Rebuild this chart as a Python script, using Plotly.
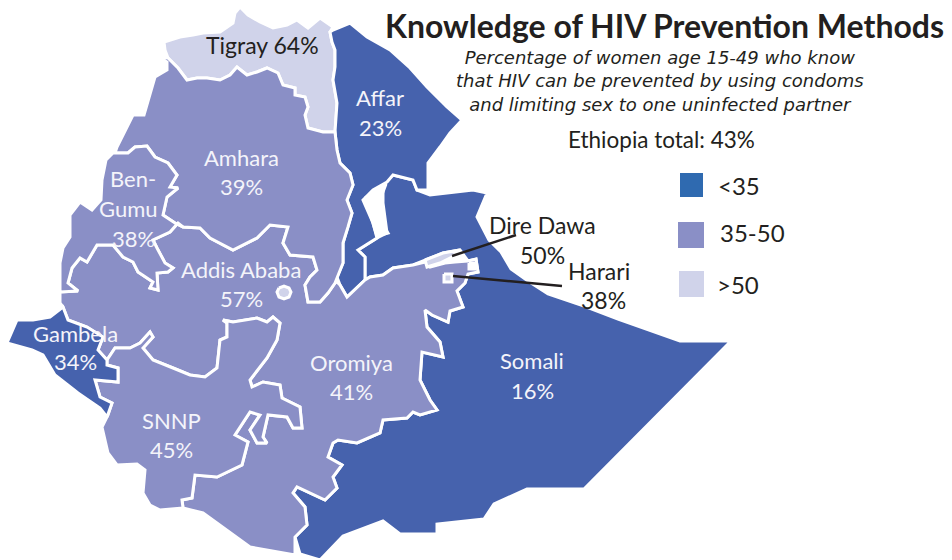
import plotly.graph_objects as go

DARK = "#4662ad"
MID = "#8a8fc6"
LIGHT = "#d0d3ea"
INK = "#231f20"

tigray = [(164,42),(180,37),(193,35),(203,33),(220,32),(233,23),(235,13),(240,7),(248,15),(260,22),(273,28),(287,25),(297,20),(308,28),(320,18),(333,27),(330,32),(332,42),(335,50),(335,67),(333,80),(337,103),(335,132),(323,132),(308,128),(305,115),(308,107),(305,97),(295,95),(295,88),(283,85),(278,73),(267,68),(257,72),(247,75),(237,67),(230,75),(220,80),(207,78),(197,78),(187,80),(178,68),(168,58),(165,50)]
amhara = [(159,57),(168,58),(178,68),(187,80),(197,78),(207,78),(220,80),(230,75),(237,67),(247,75),(257,72),(267,68),(278,73),(283,85),(295,88),(295,95),(305,97),(308,107),(305,115),(308,128),(323,132),(335,132),(337,150),(340,163),(350,173),(353,185),(347,200),(352,213),(348,227),(343,243),(343,263),(337,277),(335,283),(328,293),(320,302),(308,302),(305,285),(310,277),(317,270),(313,257),(290,255),(283,243),(288,227),(270,225),(257,238),(233,250),(210,238),(200,228),(183,227),(175,223),(163,215),(167,197),(178,188),(170,187),(177,175),(168,163),(155,157),(147,146),(135,147),(128,153),(115,153),(117,147),(122,137),(133,115),(144,115),(155,77),(167,70),(167,62)]
bengumuz = [(113,153),(115,153),(128,153),(135,147),(147,146),(155,157),(168,163),(177,175),(170,187),(178,188),(167,197),(163,215),(175,223),(183,227),(178,223),(170,232),(153,240),(157,248),(165,263),(173,268),(168,272),(157,273),(158,290),(150,288),(153,282),(138,272),(133,262),(123,257),(113,245),(97,245),(87,262),(80,258),(72,268),(68,283),(78,291),(60,292),(60,280),(60,263),(63,248),(70,237),(70,215),(80,202),(92,210),(101,200),(102,180),(106,160)]
oromiya = [(60,292),(78,291),(68,283),(72,268),(80,258),(87,262),(97,245),(113,245),(123,257),(133,262),(138,272),(153,282),(150,288),(158,290),(157,273),(168,272),(173,268),(165,263),(157,248),(153,240),(170,232),(178,223),(183,227),(200,228),(210,238),(233,250),(257,238),(270,225),(288,227),(283,243),(290,255),(313,257),(317,270),(310,277),(305,285),(308,302),(320,302),(328,293),(335,283),(337,282),(340,285),(347,297),(365,280),(370,277),(383,275),(393,268),(413,265),(425,262),(430,267),(445,263),(455,262),(468,261),(476,259),(478,272),(468,274),(465,283),(457,291),(463,307),(450,311),(448,322),(432,315),(425,310),(427,327),(440,342),(443,357),(422,352),(420,380),(430,400),(437,410),(420,415),(413,412),(407,418),(383,420),(380,433),(357,443),(338,440),(333,443),(328,457),(342,465),(333,477),(337,488),(325,500),(297,487),(293,493),(305,507),(307,525),(295,537),(295,555),(250,547),(203,513),(183,508),(182,500),(192,498),(195,475),(217,477),(242,465),(248,442),(235,435),(250,412),(260,415),(250,430),(257,443),(267,443),(263,437),(268,415),(287,417),(293,428),(302,428),(300,407),(282,398),(280,385),(263,382),(252,387),(250,380),(267,358),(277,340),(280,323),(273,317),(267,322),(257,318),(233,322),(223,320),(227,323),(227,337),(220,340),(217,368),(205,377),(190,375),(173,368),(153,360),(143,348),(153,337),(150,332),(140,343),(130,348),(115,348),(107,360),(98,350),(103,337),(87,327),(68,320),(63,307),(60,303)]
snnp = [(107,360),(115,348),(130,348),(140,343),(150,332),(153,337),(143,348),(153,360),(173,368),(190,375),(205,377),(217,368),(220,340),(227,337),(227,323),(223,320),(233,322),(257,318),(267,322),(273,317),(280,323),(277,340),(267,358),(250,380),(252,387),(263,382),(280,385),(282,398),(300,407),(302,428),(293,428),(287,417),(268,415),(263,437),(267,443),(257,443),(250,430),(260,415),(250,412),(235,435),(248,442),(242,465),(217,477),(195,475),(192,498),(182,500),(183,508),(160,510),(150,505),(143,493),(145,470),(137,464),(117,465),(108,453),(102,427),(108,415),(112,403),(100,397),(95,380),(118,382),(118,368),(107,365)]
gambela = [(17,320),(7,343),(32,350),(43,355),(55,375),(78,393),(100,408),(107,417),(112,403),(100,397),(95,380),(118,382),(118,368),(107,365),(107,360),(98,350),(103,337),(87,327),(68,320),(63,307),(50,317),(33,320)]
affar = [(350,23),(367,37),(390,50),(410,68),(427,87),(447,107),(462,120),(450,133),(440,147),(428,163),(428,190),(417,190),(413,180),(393,175),(387,182),(373,190),(363,200),(373,223),(377,238),(358,250),(365,257),(365,280),(347,297),(340,285),(337,277),(343,263),(343,243),(348,227),(352,213),(347,200),(353,185),(350,173),(340,163),(337,150),(335,132),(337,103),(333,80),(335,67),(335,50),(332,42),(330,32),(333,30)]
somali = [(393,175),(413,180),(417,190),(430,195),(473,190),(487,193),(477,217),(489,240),(501,252),(511,269),(528,281),(548,294),(584,306),(618,319),(680,341),(731,341),(584,489),(527,489),(494,504),(484,519),(437,524),(437,534),(400,534),(383,521),(343,536),(320,560),(300,554),(295,537),(307,525),(305,507),(293,493),(297,487),(325,500),(337,488),(333,477),(342,465),(328,457),(333,443),(338,440),(357,443),(380,433),(383,420),(407,418),(413,412),(420,415),(437,410),(430,400),(420,380),(422,352),(443,357),(440,342),(427,327),(425,310),(432,315),(448,322),(450,311),(463,307),(457,291),(465,283),(468,274),(478,272),(476,259),(468,261),(460,250),(443,253),(425,260),(413,265),(393,268),(383,275),(370,277),(365,280),(365,257),(358,250),(377,238),(387,233),(383,203),(383,183)]
lake = [(365,198),(376,191),(386,184),(380,200),(380,220),(388,233),(377,236),(372,220)]
dire_dawa = [(425,260),(443,253),(460,250),(452,257),(440,263),(427,267)]
harari = [(444,274),(452,274),(452,282),(444,282)]
addis = [(279,288),(284,286),(289,288),(291,292),(289,297),(284,299),(279,297),(277,292)]
speck = [(469,263),(475,263),(475,269),(469,269)]

regions = [
    ("Tigray", tigray, LIGHT), ("Somali", somali, DARK), ("Affar", affar, DARK),
    ("Oromiya", oromiya, MID), ("Amhara", amhara, MID), ("Benishangul-Gumuz", bengumuz, MID),
    ("SNNP", snnp, MID), ("Gambela", gambela, DARK), ("Lake", lake, "#ffffff"),
    ("Dire Dawa", dire_dawa, LIGHT), ("Harari", harari, LIGHT), ("Addis Ababa", addis, LIGHT),
    ("Speck", speck, "#ffffff"),
]
leaders = [[(452,256),(516,235)], [(453,276),(562,286)]]

white_labels = [("Affar",380,97),("23%",380,127),("Amhara",241,157),("39%",241,186),("Ben-",133,178),
    ("Gumu",128,208),("38%",133,238),("Addis Ababa",241,269),("57%",241,298),("Gambela",75,333),
    ("34%",75,361),("SNNP",171,420),("45%",171,449),("Oromiya",351,362),("41%",351,391),
    ("Somali",532,360),("16%",532,390)]
dark_labels = [("Tigray 64%",262,45),("Dire Dawa",542,225),("50%",542,255),("Harari",599,271),("38%",603,300)]
subtitle = ["Percentage of women age 15-49 who know","that HIV can be prevented by using condoms","and limiting sex to one uninfected partner"]
legend_items = [("<35",716,185,"#2f6ab0",680,173,703,197),("35-50",718,232,MID,678,222,704,248),(">50",715,284,LIGHT,679,271,704,297)]

fig = go.Figure()
for name, pts, color in regions:
    fig.add_trace(go.Scatter(x=[p[0] for p in pts]+[pts[0][0]], y=[p[1] for p in pts]+[pts[0][1]],
        mode="lines", fill="toself", fillcolor=color, line=dict(color="#ffffff", width=3),
        name=name, hoverinfo="name", showlegend=False))
for seg in leaders:
    fig.add_trace(go.Scatter(x=[p[0] for p in seg], y=[p[1] for p in seg], mode="lines",
        line=dict(color=INK, width=2.5), hoverinfo="skip", showlegend=False))

anns = []
F = "Lato"
for t,x,y in white_labels:
    anns.append(dict(x=x,y=y,text=t,font=dict(family=F,size=22,color="#f4f4fa")))
for t,x,y in dark_labels:
    anns.append(dict(x=x,y=y,text=t,font=dict(family=F,size=23,color=INK)))
anns.append(dict(x=664,y=25,text="<b>Knowledge of HIV Prevention Methods</b>",font=dict(family=F,size=32,color=INK)))
anns.append(dict(x=660,y=81,text="<br>".join("<i>"+s+"</i>" for s in subtitle),font=dict(family="DejaVu Sans",size=18,color=INK)))
anns.append(dict(x=661,y=139,text="Ethiopia total: 43%",font=dict(family=F,size=22.5,color=INK)))
shapes = []
for t,x,y,c,x0,y0,x1,y1 in legend_items:
    anns.append(dict(x=x,y=y,text=t,xanchor="left",font=dict(family=F,size=24,color=INK)))
    shapes.append(dict(type="rect",x0=x0,y0=y0,x1=x1,y1=y1,fillcolor=c,line=dict(width=0)))
for a in anns:
    a.update(showarrow=False, xref="x", yref="y")
    a.setdefault("xanchor","center")
    a["yanchor"]="middle"

fig.update_layout(width=952,height=560,margin=dict(l=0,r=0,t=0,b=0),paper_bgcolor="#ffffff",plot_bgcolor="#ffffff",
    annotations=anns,shapes=shapes,showlegend=False,
    xaxis=dict(range=[0,952],visible=False,fixedrange=True),
    yaxis=dict(range=[560,0],visible=False,fixedrange=True))
fig.write_html("out.html",config=dict(displayModeBar=False),
    post_script="document.body.style.margin='0';document.body.style.overflow='hidden';")
